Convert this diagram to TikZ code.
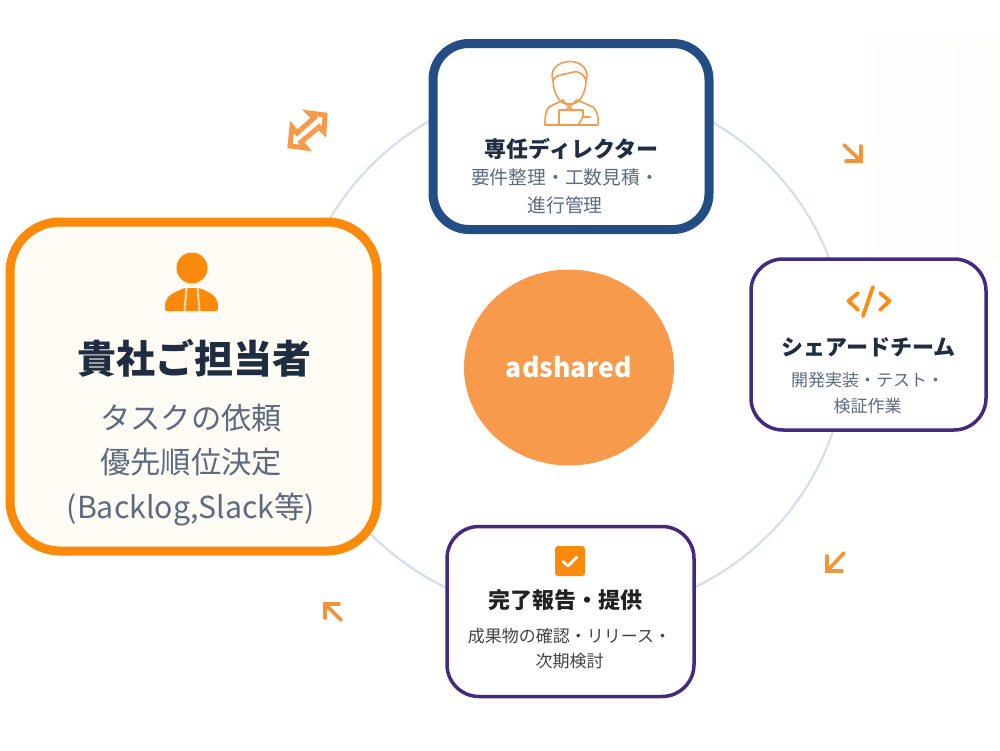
\documentclass[tikz,border=0pt]{standalone}
\usepackage{fontspec}
\setmainfont{Noto Sans CJK JP}
\usetikzlibrary{shapes.geometric}
\definecolor{ringc}{HTML}{D5DFEA}
\definecolor{orangeA}{HTML}{FB8A0A}
\definecolor{orangeB}{HTML}{F79A4B}
\definecolor{arrowc}{HTML}{F2953A}
\definecolor{navyc}{HTML}{234E85}
\definecolor{purplec}{HTML}{44297F}
\definecolor{creamc}{HTML}{FFFBF5}
\definecolor{titlec}{HTML}{1F2D40}
\definecolor{subc}{HTML}{5C6B80}
\definecolor{darkc}{HTML}{222222}
\definecolor{bgc}{HTML}{FFFDFA}
\tikzset{
  cardbox/.style={draw,fill=white,rounded corners=#1,inner sep=0pt,outer sep=0pt},
  cardtxt/.style={inner sep=0pt,outer sep=0pt,align=center,anchor=center},
  flowarrow/.style={draw=arrowc,line width=3.6pt,line cap=round,line join=miter},
  iconline/.style={draw=orangeB,line width=1.6pt,line cap=round,line join=round,fill=none}
}
\newcommand{\fs}[2]{\fontsize{#1}{#2}\selectfont}
\begin{document}
\begin{tikzpicture}[x=1pt,y=-1pt]
\useasboundingbox (0,0) rectangle (1000,750);
\fill[white] (0,0) rectangle (1000,750);
% faint background glow
\shade[left color=white,right color=bgc,draw=none] (820,35) rectangle (1000,260);
% ring
\node[draw=ringc,line width=2.2pt,ellipse,minimum width=552pt,minimum height=532pt,inner sep=0pt,outer sep=0pt] (ring) at (570,350) {};
% centre
\node[ellipse,fill=orangeB,minimum width=210pt,minimum height=196pt,inner sep=0pt,text=white,font=\fs{26.6}{32}\bfseries] (hub) at (569,367.5) {adshared};
% boxes
\node[cardbox=50pt,draw=orangeA,fill=creamc,line width=9pt,minimum width=367pt,minimum height=329pt] (client) at (193.5,386.5) {};
\node[cardbox=36pt,draw=navyc,line width=9pt,minimum width=276pt,minimum height=186pt] (director) at (571,136.5) {};
\node[cardbox=32pt,draw=purplec,line width=3.5pt,minimum width=235pt,minimum height=171pt] (team) at (868.5,344.5) {};
\node[cardbox=32pt,draw=purplec,line width=3.5pt,minimum width=247pt,minimum height=170pt] (done) at (570.5,611.5) {};
% client text
\node[cardtxt,text=titlec,font=\fs{39}{44}\bfseries] (clientT) at (194,358.5) {貴社ご担当者};
\node[cardtxt,text=subc,font=\fs{30.3}{44.5}] (clientS) at (191,465) {タスクの依頼\\優先順位決定\\(Backlog,Slack等)};
% director text
\node[cardtxt,text=titlec,font=\fs{22}{26}\bfseries] (directorT) at (571.5,148.5) {専任ディレクター};
\node[cardtxt,text=subc,font=\fs{18.8}{27.5}] (directorS) at (565,191.5) {要件整理・工数見積・\\進行管理};
% team text
\node[cardtxt,text=titlec,font=\fs{22}{26}\bfseries] (teamT) at (868.5,347.5) {シェアードチーム};
\node[cardtxt,text=subc,font=\fs{17}{26}] (teamS) at (867.5,393.5) {開発実装・テスト・\\検証作業};
% done text
\node[cardtxt,text=darkc,font=\fs{22}{26}\bfseries] (doneT) at (565,600) {完了報告・提供};
\node[cardtxt,text=darkc!85!white,font=\fs{17}{25}] (doneS) at (569.5,648.5) {成果物の確認・リリース・\\次期検討};
% client icon
\fill[orangeA] (192,268) circle (15.5);
\fill[orangeA,rounded corners=2pt] (165,311) -- (165,304) .. controls (167,295) and (176,292) .. (184,288) -- (200,288) .. controls (208,292) and (216,295) .. (218,304) -- (218,311) -- cycle;
\fill[creamc!70!orangeA] (185.5,288) -- (187.5,288) -- (185.5,311) -- (183.5,311) -- cycle;
\fill[creamc!70!orangeA] (198.5,288) -- (196.5,288) -- (198.5,311) -- (200.5,311) -- cycle;
% director icon
\draw[iconline] (553,80) .. controls (553,95) and (561,104) .. (567,104) -- (572,104) .. controls (578,104) and (586,95) .. (586,80);
\draw[iconline] (553,80) .. controls (549,70) and (558,62) .. (569,61.5) .. controls (581,61) and (590,70) .. (586,80) .. controls (583,73) and (578,71) .. (573,72) .. controls (565,75) and (558,73) .. (553,80) -- cycle;
\draw[iconline] (563,100) -- (549,107) .. controls (546,110) and (545,116) .. (545,125) -- (598,125) .. controls (599,118) and (597,110) .. (593,107) -- (577,100);
\draw[iconline] (563,100) -- (569,107) -- (577,100) (566,110) -- (569,107) -- (573,110);
\draw[iconline] (559,125) -- (559,110) -- (583,110) -- (583,117) -- (590,117) (583,117) -- (578,125);
% code icon
\draw[draw=orangeA!85!orangeB,line width=3.8pt,line cap=round,line join=round]
  (858,293) -- (848.5,301) -- (858,310)
  (880,293) -- (889.5,301) -- (880,310)
  (873,287) -- (863,316);
% check icon
\fill[orangeA,rounded corners=3pt] (555,546) rectangle (585,576);
\draw[white,line width=2.6pt,line cap=round,line join=round] (563,561.5) -- (568,566) -- (577,557);
% double arrow
\coordinate (dblA) at (290,146);
\coordinate (dblB) at (325,115);
\draw[draw=orangeB,line width=5pt,line join=miter,miter limit=10,fill=white]
  (dblB) -- (309,113) -- (314,118) -- (297,133) -- (292,127) -- (dblA) -- (306,148) -- (301,142) -- (319,127) -- (324,132) -- cycle;
% flow arrows
\coordinate (a1s) at (844,145); \coordinate (a1e) at (861,161);
\draw[flowarrow] (a1s) -- (a1e);
\draw[flowarrow] (861,146) -- (a1e) -- (846,161);
\coordinate (a2s) at (844,553); \coordinate (a2e) at (827,571);
\draw[flowarrow] (a2s) -- (a2e);
\draw[flowarrow] (827,556) -- (a2e) -- (842,571);
\coordinate (a3s) at (341,620); \coordinate (a3e) at (325,604);
\draw[flowarrow] (a3s) -- (a3e);
\draw[flowarrow] (325,618) -- (a3e) -- (339,604);
\end{tikzpicture}
\end{document}
